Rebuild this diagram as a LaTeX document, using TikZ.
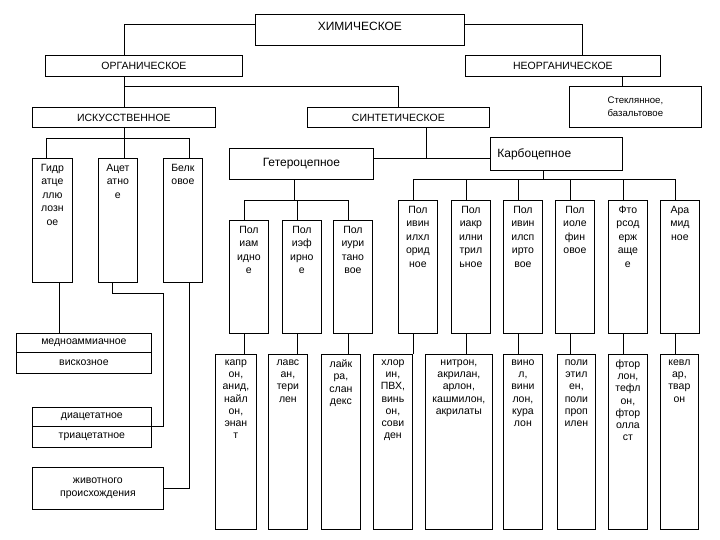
\documentclass[tikz,border=0pt]{standalone}
\usepackage{fontspec}
\setmainfont{Liberation Sans}
\usetikzlibrary{positioning,calc}

\begin{document}
\begin{tikzpicture}[
  x=1pt, y=-1pt,
  line width=0.8pt,
  box/.style={rectangle, draw, anchor=north west, inner sep=0pt, align=center,
              font=\fontsize{10.5}{12.5}\selectfont},
  head/.style={box, font=\fontsize{12}{14}\selectfont},
  col/.style={box, minimum width=39pt},
  coltxt/.style={anchor=north, inner sep=0pt, align=center, yshift=-5.5pt,
                 font=\fontsize{10.5}{13.5}\selectfont, execute at begin node=\strut},
  subtxt/.style={coltxt, font=\fontsize{10.5}{12.2}\selectfont},
]
\useasboundingbox (0,0) rectangle (720,540);

% Top levels
\node[head, minimum width=209pt, minimum height=31pt,
      text height=8.6pt, text depth=7pt]              (chem)  at (255,14) {ХИМИЧЕСКОЕ};
\node[box,  minimum width=197pt, minimum height=21pt] (org)   at (45,55)  {ОРГАНИЧЕСКОЕ};
\node[box,  minimum width=195pt, minimum height=21pt] (inorg) at (465,55) {НЕОРГАНИЧЕСКОЕ};
\node[box,  minimum width=132pt, minimum height=41pt,
      font=\fontsize{9.6}{12.5}\selectfont]           (glass) at (569,86) {Стеклянное,\\базальтовое};
\node[box,  minimum width=183pt, minimum height=20pt] (art)   at (32,107) {ИСКУССТВЕННОЕ};
\node[box,  minimum width=182pt, minimum height=20pt] (synth) at (307,107) {СИНТЕТИЧЕСКОЕ};
\node[head, minimum width=144pt, minimum height=31pt] (hetero) at (229,148) {Гетероцепное};
\node[head, minimum height=33pt, text width=118pt, inner xsep=7pt,
      align=left]                                    (carbo) at (490,137) {Карбоцепное};

% Artificial fibres
\node[col, minimum width=40pt, minimum height=124pt] (gidr) at (32,158) {};
\node[col, minimum height=124pt] (acet) at (98,158) {};
\node[col, minimum height=124pt] (belk) at (163,158) {};
\node[coltxt] (gidr-t) at (gidr.north) {Гидр\\атце\\ллю\\лозн\\ое};
\node[coltxt] (acet-t) at (acet.north) {Ацет\\атно\\е};
\node[coltxt] (belk-t) at (belk.north) {Белк\\овое};

\node[box, minimum width=135pt, minimum height=19pt] (medno) at (16,333) {медноаммиачное};
\node[box, minimum width=135pt, minimum height=21pt] (visk)  at (16,352) {вискозное};
\node[box, minimum width=119pt, minimum height=19pt] (diac)  at (32,407) {диацетатное};
\node[box, minimum width=119pt, minimum height=21pt] (triac) at (32,426) {триацетатное};
\node[box, minimum width=131pt, minimum height=42pt] (zhiv)  at (32,467) {животного\\происхождения};

% Heterochain
\node[col, minimum height=113pt] (pam) at (229,220) {};
\node[col, minimum height=113pt] (pef) at (282,220) {};
\node[col, minimum height=113pt] (pur) at (333,220) {};
\node[coltxt] (pam-t) at (pam.north) {Пол\\иам\\идно\\е};
\node[coltxt] (pef-t) at (pef.north) {Пол\\иэф\\ирно\\е};
\node[coltxt] (pur-t) at (pur.north) {Пол\\иури\\тано\\вое};

% Carbochain
\node[col, minimum height=133pt] (pvc)  at (398,200) {};
\node[col, minimum height=133pt] (pan)  at (451,200) {};
\node[col, minimum height=133pt] (pva)  at (503,200) {};
\node[col, minimum height=133pt] (pol)  at (555,200) {};
\node[col, minimum height=133pt] (ftor) at (608,200) {};
\node[col, minimum height=133pt] (aram) at (660,200) {};
\node[coltxt] (pvc-t)  at (pvc.north)  {Пол\\ивин\\илхл\\орид\\ное};
\node[coltxt] (pan-t)  at (pan.north)  {Пол\\иакр\\илни\\трил\\ьное};
\node[coltxt] (pva-t)  at (pva.north)  {Пол\\ивин\\илсп\\ирто\\вое};
\node[coltxt] (pol-t)  at (pol.north)  {Пол\\иоле\\фин\\овое};
\node[coltxt] (ftor-t) at (ftor.north) {Фто\\рсод\\ерж\\аще\\е};
\node[coltxt] (aram-t) at (aram.north) {Ара\\мид\\ное};

% Trade names
\node[col, minimum width=41pt, minimum height=175pt] (kapron)  at (215,354) {};
\node[col, minimum height=175pt]                     (lavsan)  at (268,354) {};
\node[col, minimum height=175pt]                     (lycra)   at (321,354) {};
\node[col, minimum height=175pt]                     (chlorin) at (373,354) {};
\node[col, minimum width=67pt, minimum height=175pt] (nitron)  at (425,354) {};
\node[col, minimum height=175pt]                     (vinol)   at (503,354) {};
\node[col, minimum width=38pt, minimum height=175pt] (pe)      at (557,354) {};
\node[col, minimum height=175pt]                     (ftorlon) at (608,354) {};
\node[col, minimum width=38pt, minimum height=175pt] (kevlar)  at (660,354) {};
\node[subtxt] (kapron-t)  at (kapron.north)  {капр\\он,\\анид,\\найл\\он,\\энан\\т};
\node[subtxt] (lavsan-t)  at (lavsan.north)  {лавс\\ан,\\тери\\лен};
\node[subtxt] (lycra-t)   at (lycra.north)   {лайк\\ра,\\слан\\декс};
\node[subtxt] (chlorin-t) at (chlorin.north) {хлор\\ин,\\ПВХ,\\винь\\он,\\сови\\ден};
\node[subtxt] (nitron-t)  at (nitron.north)  {нитрон,\\акрилан,\\арлон,\\кашмилон,\\акрилаты};
\node[subtxt] (vinol-t)   at (vinol.north)   {вино\\л,\\вини\\лон,\\кура\\лон};
\node[subtxt] (pe-t)      at (pe.north)      {поли\\этил\\ен,\\поли\\проп\\илен};
\node[subtxt] (ftorlon-t) at (ftorlon.north) {фтор\\лон,\\тефл\\он,\\фтор\\олла\\ст};
\node[subtxt] (kevlar-t)  at (kevlar.north)  {кевл\\ар,\\твар\\он};

% Connectors, top
\draw ([yshift=5.5pt]chem.west) -| (art.north |- org.north);
\draw ([yshift=5.5pt]chem.east) -| ([xshift=19.5pt]inorg.north);
\draw ([xshift=59.5pt]inorg.south) -- ([xshift=59.5pt]inorg.south |- glass.north);
\draw (art.north |- org.south) -- (art.north);
\coordinate (orgsplit) at ($(art.north |- org.south)+(0,10)$);
\draw (orgsplit) -| (synth.north);

\coordinate (hetjoin) at ([yshift=5.5pt]hetero.east);
\draw (hetjoin) -- (hetjoin -| carbo.west);
\draw ([xshift=28pt]synth.south) -- ([xshift=28pt]synth.south |- hetjoin);

% Connectors, artificial
\coordinate (artsplit) at ($(art.south)+(0,11)$);
\draw (art.south) -- (artsplit);
\draw ([xshift=-6pt]gidr.north) |- ([xshift=6.5pt]belk.north |- artsplit) -- ([xshift=6.5pt]belk.north);
\draw ([xshift=6.5pt]acet.north) -- ([xshift=6.5pt]acet.north |- artsplit);
\draw ([xshift=7pt]gidr.south) -- ([xshift=7pt]gidr.south |- medno.north);
\draw ([xshift=-5.5pt]acet.south) -- ++(0,11) -| ([xshift=12pt]diac.south east) -- (diac.south east);
\draw ([xshift=6.5pt]belk.south) |- (zhiv.east);

% Connectors, heterochain
\coordinate (hetsplit) at ($(hetero.south)+(-7,21)$);
\draw ([xshift=-7pt]hetero.south) -- (hetsplit);
\draw ([xshift=-5pt]pam.north) |- ([xshift=-5pt]pur.north |- hetsplit) -- ([xshift=-5pt]pur.north);
\draw ([xshift=-5pt]pef.north) -- ([xshift=-5pt]pef.north |- hetsplit);

% Connectors, carbochain
\coordinate (carbsplit) at ($(carbo.south)+(-13,9)$);
\draw ([xshift=-13pt]carbo.south) -- (carbsplit);
\draw ([xshift=-5pt]pvc.north) |- ([xshift=-5pt]aram.north |- carbsplit) -- ([xshift=-5pt]aram.north);
\draw ([xshift=-5pt]pan.north)  -- ([xshift=-5pt]pan.north |- carbsplit);
\draw ([xshift=-5pt]pva.north)  -- ([xshift=-5pt]pva.north |- carbsplit);
\draw ([xshift=-5pt]pol.north)  -- ([xshift=-5pt]pol.north |- carbsplit);
\draw ([xshift=-5pt]ftor.north) -- ([xshift=-5pt]ftor.north |- carbsplit);

% Connectors, trade names
\draw ([xshift=-5pt]pam.south)  -- ([xshift=-5pt]pam.south |- kapron.north);
\draw ([xshift=-5pt]pef.south)  -- ([xshift=-5pt]pef.south |- lavsan.north);
\draw ([xshift=-5pt]pur.south)  -- ([xshift=-5pt]pur.south |- lycra.north);
\draw ([xshift=-5pt]pvc.south)  -- ([xshift=-5pt]pvc.south |- chlorin.north);
\draw ([xshift=-5pt]pan.south)  -- ([xshift=-5pt]pan.south |- nitron.north);
\draw ([xshift=-5pt]pva.south)  -- ([xshift=-5pt]pva.south |- vinol.north);
\draw ([xshift=-5pt]pol.south)  -- ([xshift=-5pt]pol.south |- pe.north);
\draw ([xshift=-5pt]ftor.south) -- ([xshift=-5pt]ftor.south |- ftorlon.north);
\draw ([xshift=-5pt]aram.south) -- ([xshift=-5pt]aram.south |- kevlar.north);
\end{tikzpicture}
\end{document}
